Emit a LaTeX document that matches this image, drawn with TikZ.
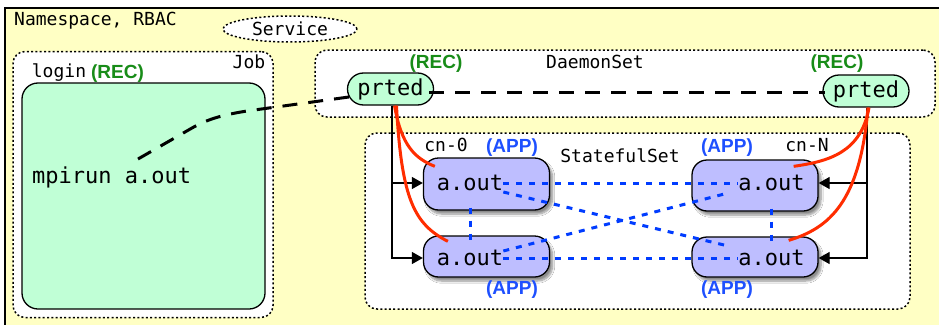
\documentclass[tikz,border=0pt]{standalone}
\usepackage{fontspec}
\setmainfont{DejaVu Sans}
\newfontfamily\monofont{DejaVu Sans Mono}
\newfontfamily\tagfont{Liberation Sans}
\usetikzlibrary{shapes.geometric,shapes.misc,arrows.meta,shadows.blur}

\definecolor{nsyellow}{RGB}{255,255,196}
\definecolor{mint}{RGB}{192,255,214}
\definecolor{lav}{RGB}{190,190,255}
\definecolor{recgreen}{RGB}{24,140,24}
\definecolor{appblue}{RGB}{30,80,255}
\definecolor{linkblue}{RGB}{0,60,255}
\definecolor{ctlred}{RGB}{255,45,0}

\begin{document}
\begin{tikzpicture}[x=1pt,y=-1pt,
  dotline/.style={line width=1.5pt, dash pattern=on 2pt off 2.3pt},
  grp/.style={draw=black, fill=white, dotline, rounded corners=12pt, inner sep=0pt},
  lbl/.style={font=\monofont\fontsize{18}{18}\selectfont, inner sep=0pt},
  big/.style={font=\monofont\fontsize{22}{22}\selectfont, inner sep=0pt},
  rec/.style={font=\tagfont\bfseries\fontsize{19}{19}\selectfont, text=recgreen, inner sep=0pt},
  app/.style={font=\tagfont\bfseries\fontsize{19}{19}\selectfont, text=appblue, inner sep=0pt},
  daemon/.style={rounded rectangle, draw, line width=1.3pt, fill=mint,
    minimum width=86pt, minimum height=32pt, inner sep=0pt, big},
  proc/.style={draw, line width=1.3pt, fill=lav, rounded corners=15pt,
    minimum width=126pt, inner sep=0pt,
    blur shadow={shadow xshift=3pt, shadow yshift=-4pt,
      shadow blur steps=8, shadow opacity=45}},
  ctl/.style={draw=black, line width=1.3pt, -{Triangle[length=11pt,width=12pt]}},
  spawn/.style={draw=ctlred, line width=3pt},
  joblink/.style={draw=black, line width=3pt, dash pattern=on 15pt off 11pt},
  mpilink/.style={draw=linkblue, line width=3pt, dash pattern=on 6pt off 7pt}
]
\useasboundingbox (0,0) rectangle (939,324);
\clip (0,0) rectangle (939,324);

% namespace frame
\draw[line width=2pt, fill=nsyellow] (5,7.5) rectangle (970,350);
\node[lbl, anchor=base west] (ns) at (14,25) {Namespace, RBAC};

% service
\node[ellipse, draw, fill=white, dotline,
  minimum width=134pt, minimum height=26pt, lbl] (svc) at (290,29) {Service};

% groups
\node[grp, minimum width=260pt, minimum height=266pt] (job) at (143,184.5) {};
\node[grp, minimum width=620pt, minimum height=67pt] (ds) at (625,83.5) {};
\node[grp, minimum width=545pt, minimum height=176pt] (sts) at (637.5,221) {};

\node[lbl, anchor=base] (joblbl) at (249,68) {Job};
\node[lbl, anchor=base] (loginlbl) at (59,77) {login};
\node[rec] (reclogin) at (117.5,74) {(REC)};
\node[lbl, anchor=base] (dslbl) at (595,68) {DaemonSet};
\node[lbl, anchor=base] (stslbl) at (620,162) {StatefulSet};
\node[lbl, anchor=base] (cn0) at (446,151) {cn-0};
\node[lbl, anchor=base] (cnN) at (807,151) {cn-N};

% login pod
\node[draw, line width=1.3pt, fill=mint, rounded corners=16pt,
  minimum width=243pt, minimum height=226pt, inner sep=0pt] (login) at (143.5,196) {};
\node[big, anchor=base west] (mpirun) at (32,183) {mpirun a.out};

% daemons
\node[daemon] (prtedL) at (390.5,89) {prted};
\node[daemon] (prtedR) at (866,91) {prted};
\node[rec] (recL) at (436,64) {(REC)};
\node[rec] (recR) at (837,64) {(REC)};

% application processes
\node[proc, minimum height=52pt] (b0) at (486.5,184) {};
\node[proc, minimum height=41pt] (b1) at (486.5,256.5) {};
\node[proc, minimum height=51pt] (bN0) at (755,185.5) {};
\node[proc, minimum height=40pt] (bN1) at (755,257) {};

\node[big] (t0) at (470,183) {a.out};
\node[big] (t1) at (470,258) {a.out};
\node[big] (tN0) at (771.5,183) {a.out};
\node[big] (tN1) at (771.5,258) {a.out};

\node[app] (app0) at (512,148) {(APP)};
\node[app] (appN0) at (727,148) {(APP)};
\node[app] (app1) at (512,290) {(APP)};
\node[app] (appN1) at (727,290) {(APP)};

% launch arrows
\draw[ctl] ([xshift=1.5pt]prtedL.south) |- (b0.west |- t0.center);
\draw[ctl] ([xshift=1.5pt]prtedL.south) |- (b1.west |- t1.center);
\draw[ctl] ([xshift=1pt]prtedR.south) |- (bN0.east |- tN0.center);
\draw[ctl] ([xshift=1pt]prtedR.south) |- (bN1.east |- tN1.center);

% spawn curves
\draw[spawn] ([xshift=4pt]prtedL.south) .. controls +(7,40) and +(-20,-8) .. ([xshift=12pt,yshift=-9pt]b0.north west);
\draw[spawn] ([xshift=6pt]prtedL.south) .. controls +(5,95) and +(-33,-17) .. ([xshift=25pt,yshift=-6pt]b1.north west);
\draw[spawn] ([xshift=3pt]prtedR.south) .. controls +(-8,45) and +(35,-5) .. ([xshift=-25pt,yshift=-7pt]bN0.north east);
\draw[spawn] ([xshift=2pt]prtedR.south) .. controls +(-8,95) and +(40,-12) .. ([xshift=-30pt,yshift=-4pt]bN1.north east);

% MPI links
\draw[mpilink] (t0.east) -- (tN0.west);
\draw[mpilink] (t1.east) -- (tN1.west);
\draw[mpilink] ([yshift=-9pt]t0.east) -- ([xshift=-10pt,yshift=12pt]tN1.west);
\draw[mpilink] ([yshift=7pt]t1.east) -- ([xshift=-10pt,yshift=-10pt]tN0.west);
\draw[mpilink] ([yshift=3pt]b0.south -| t0.center) -- ([yshift=-6pt]b1.north -| t1.center);
\draw[mpilink] ([yshift=3pt]bN0.south -| tN0.center) -- ([yshift=-6pt]bN1.north -| tN1.center);

% job launch path
\draw[joblink] ([xshift=-5pt,yshift=-3pt]prtedL.east) -- ([xshift=3pt,yshift=-1pt]prtedR.west);
\draw[joblink] ([xshift=106pt,yshift=24pt]mpirun.base west) -- (192,128)
  .. controls (208,119) and (222,115) .. (247,111) -- ([xshift=2pt,yshift=-8pt]prtedL.west);
\end{tikzpicture}
\end{document}
